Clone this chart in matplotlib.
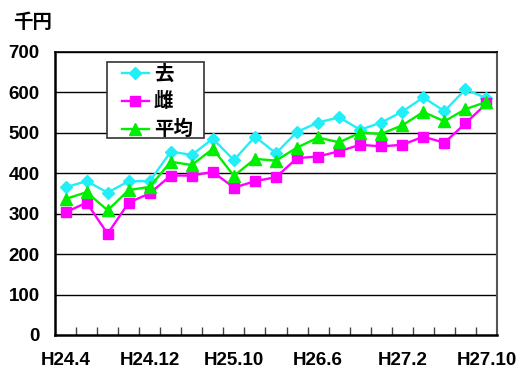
import matplotlib.pyplot as plt
from matplotlib.patches import Rectangle
import numpy as np

plt.rcParams['font.family'] = ['Liberation Sans', 'Noto Sans CJK JP', 'DejaVu Sans']
plt.rcParams['font.weight'] = 'bold'

# monthly price per head (thousand yen)
labels = ["H24.4", "H24.12", "H25.10", "H26.6", "H27.2", "H27.10"]
kyo = [365, 380, 352, 380, 380, 453, 445, 485, 432, 490, 449,
       502, 525, 538, 507, 525, 552, 587, 553, 607, 585]
mesu = [303, 327, 250, 327, 350, 394, 394, 403, 364, 380, 390,
        437, 441, 454, 470, 466, 470, 490, 475, 523, 572]
heikin = [336, 353, 308, 358, 366, 428, 420, 460, 393, 435, 431,
          463, 488, 476, 500, 497, 518, 551, 528, 558, 576]

x = np.arange(len(kyo))

fig = plt.figure(figsize=(5.27, 3.74), dpi=100)
ax = fig.add_axes([0.1044, 0.1043, 0.8387, 0.7575])

for y in range(100, 701, 100):
    ax.axhline(y, color='black', lw=1.0, zorder=1)

ax.plot(x, kyo, color='#22EEF8', marker='D', ms=6.5, lw=1.7, label='去', zorder=3)
ax.plot(x, mesu, color='#FF00FF', marker='s', ms=7, lw=1.7, label='雌', zorder=3)
ax.plot(x, heikin, color='#00EE00', marker='^', ms=8.5, lw=1.7, label='平均', zorder=4)

ax.set_xlim(-0.5, len(kyo) - 0.5)
ax.set_ylim(0, 700)
ax.set_yticks(range(0, 701, 100))
ax.tick_params(axis='y', length=0, pad=11, labelsize=13.5)

# category boundary ticks inside the bottom axis, labels every 4th point
ax.set_xticks(np.arange(0.5, len(kyo) - 0.5, 1.0))
ax.set_xticklabels([])
ax.tick_params(axis='x', direction='in', length=6, width=1, color='#444444')
for i, lab in zip(range(0, len(kyo), 4), labels):
    ax.text(i, -0.06, lab, transform=ax.get_xaxis_transform(), ha='center', va='top',
            fontsize=13.5, fontweight='bold')

for side in ['left', 'bottom']:
    ax.spines[side].set_linewidth(1.8)
    ax.spines[side].set_color('black')
ax.spines['top'].set_linewidth(1.2)
ax.spines['right'].set_color('#555555')
ax.spines['right'].set_linewidth(1.5)

fig.text(0.024, 0.965, '千円', fontsize=14, fontweight='bold', va='top',
         family=['Noto Sans CJK JP'])

# legend box with wider side padding than matplotlib gives
ax.add_patch(Rectangle((0.118, 0.695), 0.2195, 0.268, transform=ax.transAxes,
                       facecolor='white', edgecolor='#333333', lw=1.2, zorder=5))
leg = ax.legend(loc='upper left', bbox_to_anchor=(0.151, 0.955), frameon=False,
                handlelength=1.4, borderpad=0, borderaxespad=0,
                labelspacing=0.45, handletextpad=0.25,
                prop={'family': ['Noto Sans CJK JP'], 'weight': 'bold', 'size': 14})
leg.set_zorder(6)

fig.savefig('out.png', dpi=100)
